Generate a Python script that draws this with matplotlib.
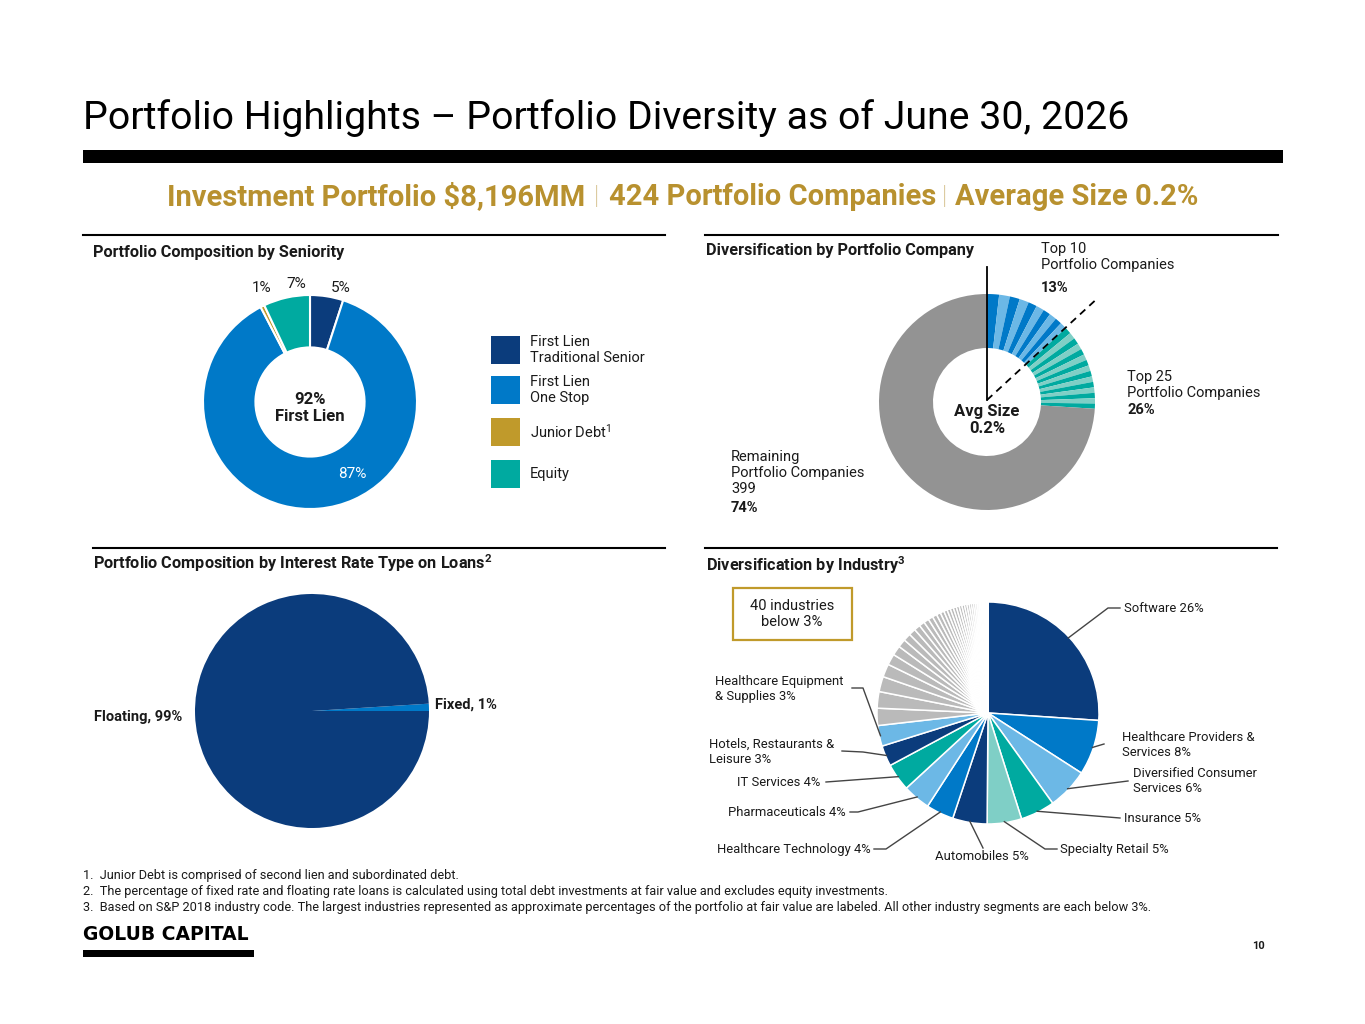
import numpy as np
import matplotlib
matplotlib.use('Agg')
import matplotlib.pyplot as plt
from matplotlib.patches import Rectangle

W, H = 1365, 1024

# --- datos ---
seniority_labels = ['First Lien\nTraditional Senior', 'First Lien\nOne Stop', 'Junior Debt$^{1}$', 'Equity']
seniority_values = [5, 87, 0.6, 7]
seniority_pct = ['5%', '87%', '1%', '7%']

top10_values = [1.8, 1.6, 1.5, 1.4, 1.3, 1.2, 1.1, 1.1, 1.0, 1.0]
top25_values = [1.0, 0.98, 0.95, 0.92, 0.9, 0.88, 0.86, 0.85, 0.84, 0.83, 0.82, 0.81, 0.8, 0.79, 0.77]
remaining_value = 74

rate_labels = ['Fixed, 1%', 'Floating, 99%']
rate_values = [1, 99]

industry_labels = ['Software 26%', 'Healthcare Providers &\nServices 8%', 'Diversified Consumer\nServices 6%',
                   'Insurance 5%', 'Specialty Retail 5%', 'Automobiles 5%', 'Healthcare Technology 4%',
                   'Pharmaceuticals 4%', 'IT Services 4%', 'Hotels, Restaurants &\nLeisure 3%',
                   'Healthcare Equipment\n& Supplies 3%']
industry_values = [26, 8, 6, 5, 5, 5, 4, 4, 4, 3, 3]
other_industry_values = [2.5, 2.4, 2.2, 1.9, 1.6, 1.4, 1.2, 1.1, 1.0, 0.9,
                         0.8, 0.75, 0.7, 0.65, 0.6, 0.55, 0.5, 0.48, 0.46, 0.44,
                         0.42, 0.4, 0.38, 0.36, 0.34, 0.32, 0.3, 0.28, 0.26, 0.24,
                         0.22, 0.2, 0.18, 0.16, 0.14, 0.12, 0.1, 0.08, 0.06, 0.05]

subtitle_parts = ['Investment Portfolio $8,196MM', '|', '424 Portfolio Companies', '|', 'Average Size 0.2%']

footnotes = [
    '1.  Junior Debt is comprised of second lien and subordinated debt.',
    '2.  The percentage of fixed rate and floating rate loans is calculated using total debt investments at fair value and excludes equity investments.',
    '3.  Based on S&P 2018 industry code. The largest industries represented as approximate percentages of the portfolio at fair value are labeled. All other industry segments are each below 3%.',
]

# colores
NAVY = '#0b3c7c'
BLUE = '#0079c8'
LBLUE = '#6cb8e6'
TEAL = '#00aaa0'
LTEAL = '#7fcfc6'
GOLD = '#c09a2b'
GREY = '#939393'
LGREY = '#bababa'
TXT = '#1a1a1a'

plt.rcParams['font.family'] = ['Roboto', 'DejaVu Sans']
plt.rcParams['mathtext.default'] = 'regular'

fig = plt.figure(figsize=(W / 100, H / 100), dpi=100)
ax = fig.add_axes([0, 0, 1, 1])
ax.set_autoscale_on(False)
ax.set_xlim(0, W)
ax.set_ylim(0, H)


def T(x, y, s, size=10.5, weight='normal', color=TXT, ha='left', va='center', **kw):
    return ax.text(x, H - y, s, fontsize=size, fontweight=weight, color=color,
                   ha=ha, va=va, linespacing=1.15, **kw)


def L(pts, **kw):
    xs = [p[0] for p in pts]
    ys = [H - p[1] for p in pts]
    ax.plot(xs, ys, **kw)


# --- cabecera ---
T(83, 118, 'Portfolio Highlights – Portfolio Diversity as of June 30, 2026', size=28.3, color='black')
ax.add_patch(Rectangle((83, H - 163), 1200, 13, color='black', lw=0))

# subtítulo en trozos: texto en negrita, barras finas
renderer = fig.canvas.get_renderer()
pieces = []
for i, part in enumerate(subtitle_parts):
    bar = part == '|'
    t = T(0, 197, part, size=21 if not bar else 19, weight='light' if bar else 'bold',
          color='#b8912f' if not bar else '#c8ad6a')
    pieces.append(t)
gaps = [0, 8, 10, 6, 8]
widths = [p.get_window_extent(renderer).width for p in pieces]
total = sum(widths) + sum(gaps)
x = 683 - total / 2
for p, wdt, g in zip(pieces, widths, gaps):
    x += g
    p.set_x(x)
    x += wdt

# separadores de sección
L([(83, 235), (665, 235)], color='black', lw=1.5)
L([(705, 235), (1278, 235)], color='black', lw=1.5)
L([(93, 548), (665, 548)], color='black', lw=1.5)
L([(705, 548), (1277, 548)], color='black', lw=1.5)
T(93, 253, 'Portfolio Composition by Seniority', size=11.7, weight='bold')
T(706, 250, 'Diversification by Portfolio Company', size=11.7, weight='bold')
T(93, 563, 'Portfolio Composition by Interest Rate Type on Loans$^{2}$', size=11.7, weight='bold')
T(706, 565, 'Diversification by Industry$^{3}$', size=11.7, weight='bold')

# --- donut seniority ---
sen_colors = [NAVY, BLUE, GOLD, TEAL]
cx, cy, R = 310, 402, 107
ax.pie(seniority_values, colors=sen_colors, startangle=90, counterclock=False,
       center=(cx, H - cy), radius=R, frame=True,
       wedgeprops=dict(width=R * 0.49, edgecolor='white', linewidth=1.5))
T(331, 288, seniority_pct[0], size=11)
T(352, 474, seniority_pct[1], size=11, color='white', ha='center')
T(262, 288, seniority_pct[2], size=11, ha='center')
T(296, 284, seniority_pct[3], size=11, ha='center')
T(cx, 408, '92%\nFirst Lien', size=12, weight='bold', ha='center')

legend_y = [350, 390, 432, 474]
for lab, col, ly in zip(seniority_labels, sen_colors, legend_y):
    ax.add_patch(Rectangle((491, H - ly - 14), 29, 28, color=col, lw=0))
    T(530, ly, lab, size=10.5)

# --- donut por compañía ---
comp_values = top10_values + top25_values + [remaining_value]
comp_colors = [BLUE, LBLUE] * 5 + [TEAL, LTEAL] * 7 + [TEAL] + [GREY]
cx2, cy2, R2 = 987, 402, 108
ax.pie(comp_values, colors=comp_colors, startangle=90, counterclock=False,
       center=(cx2, H - cy2), radius=R2, frame=True,
       wedgeprops=dict(width=R2 * 0.5, linewidth=0))
L([(cx2, cy2 - 2), (cx2, 267)], color='black', lw=1.3)
ang = np.deg2rad(90 - 360 * sum(top10_values) / sum(comp_values))
L([(cx2, cy2 - 2), (cx2 + 148 * np.cos(ang), cy2 - 148 * np.sin(ang))], color='black', lw=1.3, ls=(0, (4, 3)))
T(1041, 257, 'Top 10\nPortfolio Companies', size=10.5)
T(1041, 288, '13%', size=10.5, weight='bold')
T(1127, 385, 'Top 25\nPortfolio Companies', size=10.5)
T(1127, 410, '26%', size=10.5, weight='bold')
T(731, 473, 'Remaining\nPortfolio Companies\n399', size=10.5)
T(731, 508, '74%', size=10.5, weight='bold')
T(cx2, 420, 'Avg Size\n0.2%', size=12, weight='bold', ha='center')

# --- pie tipo de tasa ---
ax.pie(rate_values, colors=[BLUE, NAVY], startangle=0, counterclock=True,
       center=(312, H - 711), radius=117, frame=True, wedgeprops=dict(linewidth=0))
T(435, 705, rate_labels[0], size=10.5, weight='bold')
T(182, 717, rate_labels[1], size=10.5, weight='bold', ha='right')

# --- pie por industria ---
ind_colors = [NAVY, BLUE, LBLUE, TEAL, LTEAL, NAVY, BLUE, LBLUE, TEAL, NAVY, LBLUE] + [LGREY] * len(other_industry_values)
cx3, cy3, R3 = 988, 713, 111
wedges, _ = ax.pie(industry_values + other_industry_values, colors=ind_colors, startangle=90,
                   counterclock=False, center=(cx3, H - cy3), radius=R3, frame=True,
                   wedgeprops=dict(edgecolor='white', linewidth=1.1))

label_pos = [(1124, 608, 'left'), (1122, 745, 'left'), (1133, 781, 'left'), (1124, 818, 'left'),
             (1060, 849, 'left'), (982, 857, 'center'), (871, 849, 'right'), (846, 812, 'right'),
             (820, 782, 'right'), (709, 752, 'left'), (715, 689, 'left')]
elbows = [[(1108, 608), (1120, 608)], [(1104, 744)], [(1128, 781)], [(1120, 818)],
          [(1045, 849), (1057, 849)], [(983, 848)], [(886, 849), (874, 849)],
          [(858, 812), (850, 812)], [(826, 782)], [(863, 752), (842, 751)],
          [(863, 688), (852, 688)]]
for w, lab, (tx, ty, ha), el in zip(wedges, industry_labels, label_pos, elbows):
    mid = np.deg2rad((w.theta1 + w.theta2) / 2)
    start = (cx3 + R3 * 0.99 * np.cos(mid), cy3 - R3 * 0.99 * np.sin(mid))
    L([start] + el, color='#444444', lw=1)
    T(tx, ty, lab, size=9.4, ha=ha)

ax.add_patch(Rectangle((733, H - 640), 119, 52, fill=False, edgecolor=GOLD, lw=1.6))
T(792, 614, '40 industries\nbelow 3%', size=10.5, ha='center')

# --- notas y pie de página ---
for i, fn in enumerate(footnotes):
    T(83, 876 + 16 * i, fn, size=9.2)
T(83, 935, 'GOLUB CAPITAL', size=13.5, weight='bold', color='black', family='DejaVu Sans')
ax.add_patch(Rectangle((83, H - 957), 171, 7, color='black', lw=0))
T(1265, 946, '10', size=8, weight='bold', ha='right')

ax.set_xlim(0, W)
ax.set_ylim(0, H)
ax.axis('off')
fig.savefig('out.png', dpi=100)
